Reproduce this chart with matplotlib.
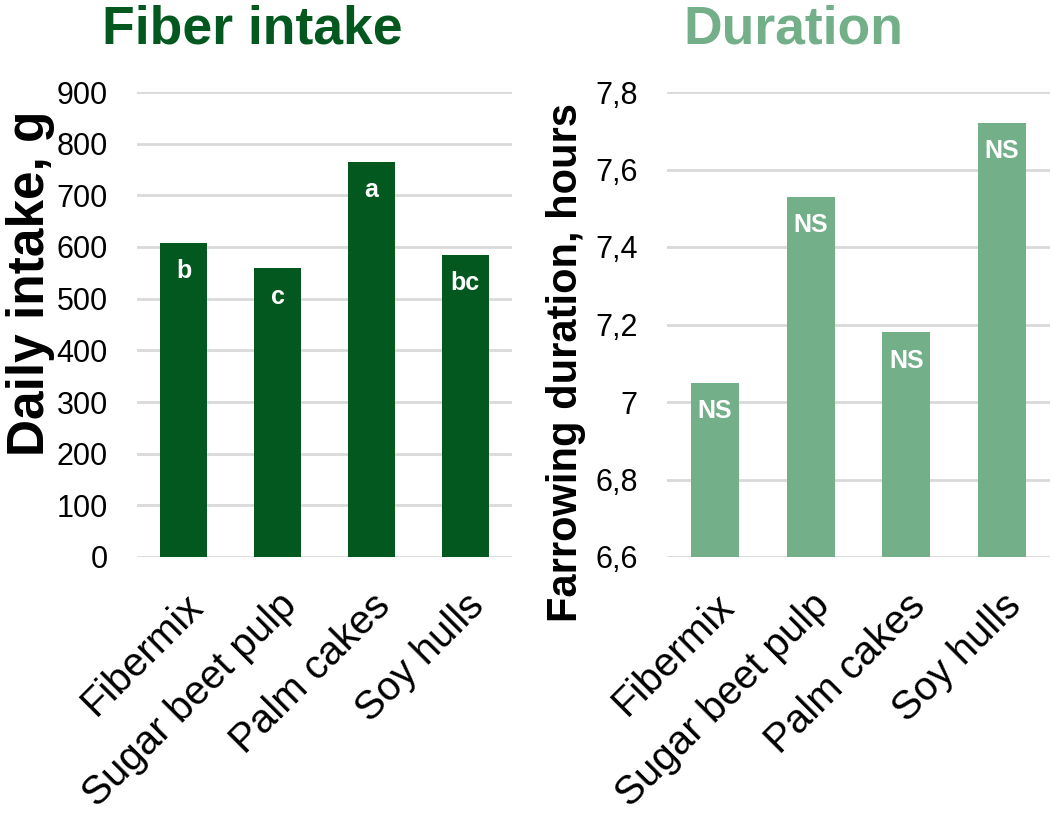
import matplotlib
matplotlib.use("Agg")
import matplotlib.pyplot as plt

plt.rcParams['font.family'] = ['Liberation Sans', 'DejaVu Sans']

categories = ['Fibermix', 'Sugar beet pulp', 'Palm cakes', 'Soy hulls']
intake = [608, 559, 765, 585]
intake_letters = ['b', 'c', 'a', 'bc']
duration = [7.05, 7.53, 7.18, 7.72]
duration_letters = ['NS', 'NS', 'NS', 'NS']

dark = '#03581f'
light = '#73af89'
grid_col = '#d9d9d9'

fig = plt.figure(figsize=(10.51, 8.19), dpi=100)
ax1 = fig.add_axes([137 / 1051, 1 - 557 / 819, 375 / 1051, 465 / 819])
ax2 = fig.add_axes([667 / 1051, 1 - 557 / 819, 383 / 1051, 465 / 819])


def style(ax, bars_color, vals, letters, ylim, ticks, ticklabels):
    x = range(len(categories))
    bars = ax.bar(x, vals, width=0.5, color=bars_color, zorder=3)
    ax.set_ylim(*ylim)
    ax.set_xlim(-0.5, len(categories) - 0.5)
    ax.set_yticks(ticks)
    ax.set_yticklabels(ticklabels, fontsize=22)
    ax.set_xticks(list(x))
    ax.set_xticklabels(categories, rotation=45, ha='right', rotation_mode='anchor', fontsize=29)
    ax.tick_params(length=0)
    ax.tick_params(axis='y', pad=21)
    ax.tick_params(axis='x', pad=21)
    for s in ax.spines.values():
        s.set_visible(False)
    ax.grid(axis='y', color=grid_col, linewidth=2, zorder=0)
    for b, lab in zip(bars, letters):
        ax.annotate(lab, (b.get_x() + b.get_width() / 2, b.get_height()),
                    xytext=(0, -20.5), textcoords='offset points', ha='center', va='center',
                    color='white', fontweight='bold', fontsize=18, zorder=4)


style(ax1, dark, intake, intake_letters, (0, 900),
      list(range(0, 901, 100)), [str(v) for v in range(0, 901, 100)])
dticks = [6.6, 6.8, 7.0, 7.2, 7.4, 7.6, 7.8]
dlabels = ['6,6', '6,8', '7', '7,2', '7,4', '7,6', '7,8']
style(ax2, light, duration, duration_letters, (6.6, 7.8), dticks, dlabels)

fig.text(252 / 1051, 1 - 43 / 819, 'Fiber intake', color=dark, fontsize=38.5,
         fontweight='bold', ha='center', va='baseline')
fig.text(793 / 1051, 1 - 43 / 819, 'Duration', color=light, fontsize=38.5,
         fontweight='bold', ha='center', va='baseline')
fig.text(31 / 1051, 1 - 283 / 819, 'Daily intake, g', fontsize=37, fontweight='bold',
         rotation=90, ha='center', va='center')
fig.text(566 / 1051, 1 - 362 / 819, 'Farrowing duration, hours', fontsize=30,
         fontweight='bold', rotation=90, ha='center', va='center')

fig.savefig('out.png', dpi=100)
